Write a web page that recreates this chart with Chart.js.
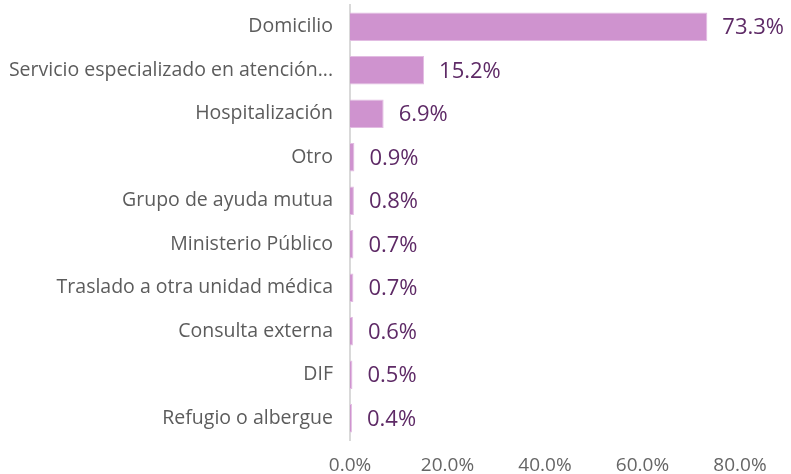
<!DOCTYPE html>
<html>
<head>
<meta charset="utf-8">
<script src="https://cdn.jsdelivr.net/npm/chart.js@4"></script>
<style>
  html, body { margin: 0; padding: 0; background: #fff; }
  #wrap { width: 791px; height: 474px; }
</style>
</head>
<body>
<div id="wrap"><canvas id="bars"></canvas></div>
<script>
const categories = ['Domicilio', 'Servicio especializado en atención...', 'Hospitalización', 'Otro',
  'Grupo de ayuda mutua', 'Ministerio Público', 'Traslado a otra unidad médica',
  'Consulta externa', 'DIF', 'Refugio o albergue'];
const shares = [73.3, 15.2, 6.9, 0.9, 0.8, 0.7, 0.7, 0.6, 0.5, 0.4];
const xTicks = [0, 20, 40, 60, 80];

// values written past the end of each bar
const valueLabels = {
  id: 'valueLabels',
  afterDatasetsDraw(chart) {
    const ctx = chart.ctx;
    const meta = chart.getDatasetMeta(0);
    ctx.save();
    ctx.font = '500 22px "Open Sans"';
    ctx.fillStyle = '#5e2a66';
    ctx.textAlign = 'left';
    ctx.textBaseline = 'middle';
    meta.data.forEach((bar, i) => {
      ctx.fillText(shares[i].toFixed(1) + '%', bar.x + 15, bar.y + 1);
    });
    ctx.restore();
  }
};

new Chart(document.getElementById('bars').getContext('2d'), {
  type: 'bar',
  data: {
    labels: categories,
    datasets: [{
      data: shares,
      backgroundColor: '#cf93cf',
      borderColor: '#e2bce2',
      borderWidth: 1,
      barPercentage: 0.65,
      categoryPercentage: 1
    }]
  },
  options: {
    indexAxis: 'y',
    responsive: true,
    maintainAspectRatio: false,
    animation: false,
    layout: { padding: { top: 5, right: 51, left: 0, bottom: 0 } },
    plugins: { legend: { display: false }, tooltip: { enabled: false } },
    scales: {
      x: {
        min: 0, max: 80,
        afterBuildTicks: s => { s.ticks = xTicks.map(v => ({ value: v })); },
        afterFit: s => { s.height = 34; },
        grid: { display: false, drawTicks: false },
        border: { display: false },
        ticks: {
          padding: 14,
          color: '#666',
          font: { family: 'Open Sans', size: 19 },
          callback: v => Number(v).toFixed(1) + '%'
        }
      },
      y: {
        afterFit: s => { s.width = 350; s.paddingTop = 0; s.paddingBottom = 0; },
        grid: { display: false, drawTicks: false },
        border: { display: true, color: '#d9d9d9', width: 2 },
        ticks: {
          padding: 17,
          color: '#5c5c5c',
          font: { family: 'Open Sans', size: 19.5 }
        }
      }
    }
  },
  plugins: [valueLabels]
});
</script>
</body>
</html>
